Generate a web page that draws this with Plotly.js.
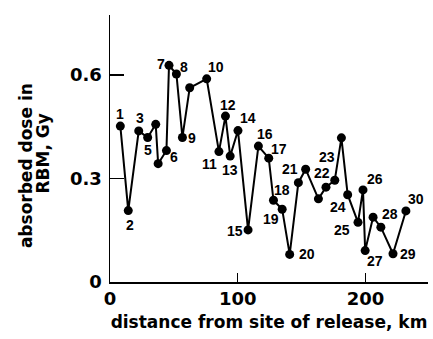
<!DOCTYPE html>
<html>
<head>
<meta charset="utf-8">
<script src="https://cdn.plot.ly/plotly-3.0.1.min.js"></script>
<style>
  html, body { margin: 0; padding: 0; background: #fff; }
  #chart { width: 433px; height: 339px; }
</style>
</head>
<body>
<div id="chart"></div>
<script>
// Sampling sites along the trace: distance from the release point (km)
const distance = [8.1, 14.3, 22.5, 29.5, 35.8, 37.7, 44.2, 46.2, 52.0, 56.7, 62.4, 75.7,
                  85.3, 90.4, 94.1, 100.2, 108.1, 116.2, 124.3, 128.0, 134.8, 140.7, 147.5, 153.2,
                  163.2, 169.1, 176.0, 181.2, 186.1, 194.2, 198.1, 199.8, 206.0, 212.1, 221.6, 231.7];
// Absorbed dose in red bone marrow (Gy)
const dose = [0.452, 0.207, 0.438, 0.419, 0.457, 0.343, 0.381, 0.628, 0.603, 0.419, 0.563, 0.589,
              0.378, 0.481, 0.365, 0.439, 0.151, 0.394, 0.359, 0.237, 0.211, 0.080, 0.288, 0.327,
              0.241, 0.275, 0.295, 0.418, 0.253, 0.173, 0.267, 0.091, 0.188, 0.159, 0.082, 0.206];
// Site numbers ("" = site without a number)
const siteNumbers = ["1", "2", "3", "5", "", "", "6", "7", "8", "9", "", "10",
                     "11", "12", "13", "14", "15", "16", "17", "18", "19", "20", "", "21",
                     "", "22", "", "23", "24", "25", "26", "27", "28", "", "29", "30"];
// y-axis ticks
const yTickVals = [0, 0.3, 0.6];
const yTickText = ["0", "0.3", "0.6"];
// x-axis ticks
const xTickVals = [0, 100, 200];
const xTickText = ["0", "100", "200"];

// Pixel offsets (right, down) of each site number from its marker
const labelOffsets = [[0, -12], [1.5, 14], [1, -13], [0, 13], [0, 0], [0, 0], [8, 6], [-8.5, -1],
                      [8, -7], [10, 1], [0, 0], [9, -12], [-9, 12], [3, -11], [0, 14], [10, -13],
                      [-13, 1], [7, -12], [10, -9], [9, -10], [-11, 10], [17, 0], [0, 0], [-16, 0],
                      [0, 0], [-4, -14], [0, 0], [-14, 19], [-10, 12], [-16, 8], [12, -11], [10, 10],
                      [17, -3], [0, 0], [15, 0], [10, -12]];

const tickFont = { family: "DejaVu Sans", size: 18, color: "#000", weight: "bold" };
const titleFont = { family: "DejaVu Sans", size: 17, color: "#000", weight: "bold" };
const numFont = { family: "Liberation Sans, Arial, sans-serif", size: 14, color: "#000", weight: "bold" };

const trace = {
  x: distance,
  y: dose,
  type: "scatter",
  mode: "lines+markers",
  line: { color: "#000", width: 2 },
  marker: { color: "#000", size: 9 },
  hoverinfo: "skip",
  showlegend: false
};

const annotations = [];
siteNumbers.forEach((s, i) => {
  if (!s) return;
  annotations.push({
    x: distance[i], y: dose[i], xref: "x", yref: "y",
    text: s, showarrow: false, font: numFont,
    xanchor: "center", yanchor: "middle",
    xshift: labelOffsets[i][0], yshift: -labelOffsets[i][1]
  });
});

// Two-line vertical axis title
annotations.push({
  xref: "paper", yref: "paper", x: 0, y: 0.434, xshift: -84,
  text: "absorbed dose in", textangle: -90, showarrow: false,
  font: titleFont, xanchor: "center", yanchor: "middle"
});
annotations.push({
  xref: "paper", yref: "paper", x: 0, y: 0.481, xshift: -67,
  text: "RBM, Gy", textangle: -90, showarrow: false,
  font: titleFont, xanchor: "center", yanchor: "middle"
});

const layout = {
  width: 433, height: 339,
  margin: { l: 110, r: 5, t: 15, b: 57, pad: 0 },
  paper_bgcolor: "#fff", plot_bgcolor: "#fff",
  xaxis: {
    range: [0, 249], showgrid: false, zeroline: false,
    showline: true, linecolor: "#000", linewidth: 1.5,
    ticks: "inside", ticklen: 9, tickwidth: 1.5, tickcolor: "#000",
    tickvals: xTickVals, ticktext: xTickText, tickfont: tickFont,
    title: { text: "distance from site of release, km", font: titleFont, standoff: 8 }
  },
  yaxis: {
    range: [0, 0.774], showgrid: false, zeroline: false,
    showline: true, linecolor: "#000", linewidth: 1.5,
    ticks: "inside", ticklen: 14, tickwidth: 1.5, tickcolor: "#000",
    tickvals: yTickVals, ticktext: yTickText, tickfont: tickFont,
    ticklabelstandoff: 3
  },
  annotations: annotations
};

Plotly.newPlot("chart", [trace], layout, { staticPlot: true, displayModeBar: false });
</script>
</body>
</html>
